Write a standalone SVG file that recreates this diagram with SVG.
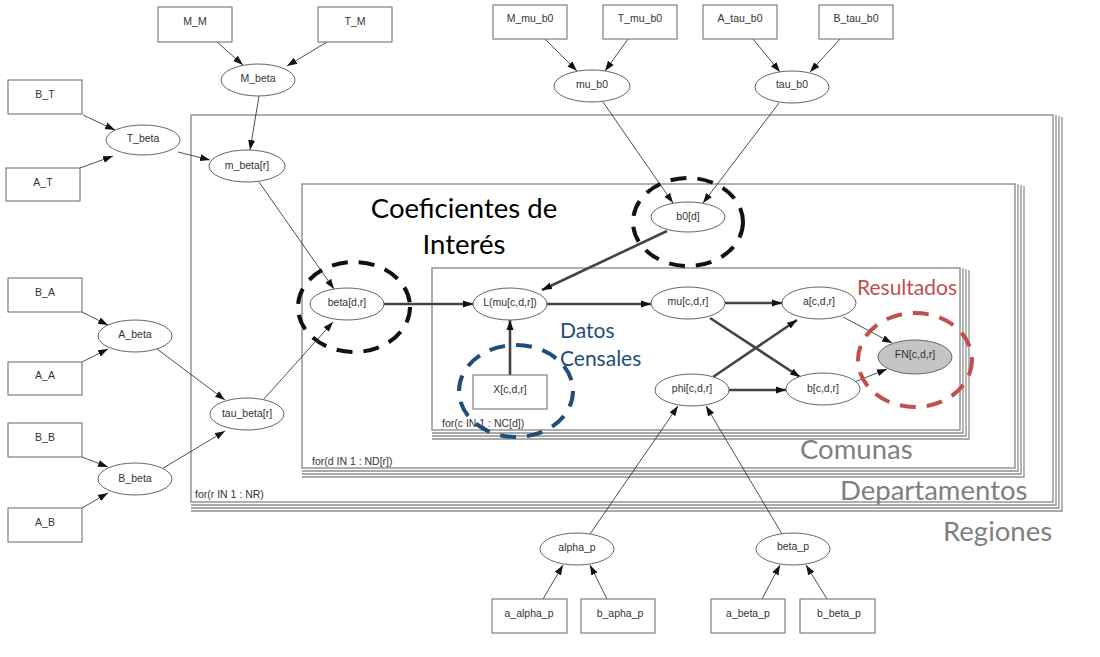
<svg xmlns="http://www.w3.org/2000/svg" width="1100" height="657" viewBox="0 0 1100 657">
<style>
.pl{fill:none;stroke:#858585;stroke-width:1.3}
.ps{fill:none;stroke:#8f8f8f;stroke-width:1.3}
.nd{fill:#fff;stroke:#666;stroke-width:1}
.gr{fill:#c4c4c4;stroke:#666;stroke-width:1}
.t{font-family:"Liberation Sans",Arial,sans-serif;font-size:10.5px;fill:#333;text-anchor:middle;dominant-baseline:central}
.pt{font-family:"Liberation Sans",Arial,sans-serif;font-size:10.5px;fill:#333}
.c{stroke:#222;stroke-width:0.8;fill:none;marker-end:url(#ah)}
.k{stroke:#444;stroke-width:2.6;fill:none;marker-end:url(#ah)}
.an{font-family:Lato,"Open Sans",sans-serif}
.dc{fill:none;stroke-width:4;stroke-dasharray:16 11}
</style>
<defs>
<marker id="ah" viewBox="0 0 10 10" refX="10" refY="5" markerWidth="10" markerHeight="10" markerUnits="userSpaceOnUse" orient="auto">
<path d="M0,1.5 L10,5 L0,8.5 z" fill="#111"/>
</marker>
</defs>
<rect width="1100" height="657" fill="#fff"/>
<g id="plates">
<g id="plate-regions">
<rect class="pl" x="191" y="115" width="862" height="387"/>
<polyline class="ps" points="1056,115 1056,505 191,505"/>
<polyline class="ps" points="1059,116 1059,508 191,508"/>
<polyline class="ps" points="1062,117 1062,511 191,511"/>
<text class="pt" x="195" y="498">for(r IN 1 : NR)</text>
</g>
<g id="plate-departamentos">
<rect class="pl" x="302" y="184" width="713" height="284"/>
<polyline class="ps" points="1018,184 1018,471 302,471"/>
<polyline class="ps" points="1021,185 1021,474 302,474"/>
<polyline class="ps" points="1024,186 1024,477 302,477"/>
<text class="pt" x="312" y="465">for(d IN 1 : ND[r])</text>
</g>
<g id="plate-comunas">
<rect class="pl" x="432" y="268" width="528" height="162"/>
<polyline class="ps" points="963,268 963,433 432,433"/>
<polyline class="ps" points="966,269 966,436 432,436"/>
<polyline class="ps" points="969,270 969,439 432,439"/>
<text class="pt" x="442" y="427">for(c IN 1 : NC[d])</text>
</g>
</g>
<g id="connectors">
<line class="c" x1="217" y1="42" x2="243" y2="65"/>
<line class="c" x1="327" y1="42" x2="287" y2="66"/>
<line class="c" x1="83" y1="115" x2="115" y2="130"/>
<line class="c" x1="80" y1="168" x2="113" y2="156"/>
<line class="c" x1="259" y1="96" x2="250" y2="150"/>
<line class="c" x1="178" y1="152" x2="210" y2="160"/>
<line class="c" x1="259" y1="182" x2="334" y2="289"/>
<line class="c" x1="82" y1="312" x2="108" y2="325"/>
<line class="c" x1="82" y1="362" x2="108" y2="349"/>
<line class="c" x1="157" y1="349" x2="225" y2="400"/>
<line class="c" x1="82" y1="457" x2="108" y2="467"/>
<line class="c" x1="82" y1="508" x2="108" y2="493"/>
<line class="c" x1="160" y1="470" x2="225" y2="431"/>
<line class="c" x1="263" y1="400" x2="333" y2="322"/>
<line class="c" x1="545" y1="39" x2="577" y2="71"/>
<line class="c" x1="628" y1="39" x2="605" y2="71"/>
<line class="c" x1="753" y1="39" x2="780" y2="72"/>
<line class="c" x1="840" y1="39" x2="810" y2="72"/>
<line class="c" x1="603" y1="102" x2="673" y2="203"/>
<line class="c" x1="779" y1="103" x2="703" y2="203"/>
<line class="c" x1="843" y1="317" x2="892" y2="343"/>
<line class="c" x1="852" y1="383" x2="887" y2="369"/>
<line class="c" x1="590" y1="534" x2="678" y2="406"/>
<line class="c" x1="782" y1="534" x2="706" y2="406"/>
<line class="c" x1="543" y1="599" x2="563" y2="565"/>
<line class="c" x1="607" y1="599" x2="590" y2="565"/>
<line class="c" x1="762" y1="599" x2="780" y2="565"/>
<line class="c" x1="827" y1="599" x2="806" y2="565"/>
<line class="k" x1="667" y1="231" x2="542" y2="290"/>
<line class="k" x1="384" y1="304" x2="473" y2="304"/>
<line class="k" x1="510" y1="375" x2="510" y2="320"/>
<line class="k" x1="547" y1="304" x2="651" y2="304"/>
<line class="k" x1="725" y1="303" x2="782" y2="303"/>
<line class="k" x1="729" y1="390" x2="786" y2="390"/>
<line class="k" x1="710" y1="318" x2="800" y2="377"/>
<line class="k" x1="713" y1="377" x2="797" y2="320"/>
</g>
<g id="n-M_M"><rect class="nd" x="158" y="7" width="74" height="35"/><text class="t" x="195" y="21">M_M</text></g>
<g id="n-T_M"><rect class="nd" x="318" y="7" width="74" height="35"/><text class="t" x="355" y="21">T_M</text></g>
<g id="n-B_T"><rect class="nd" x="8" y="80" width="74" height="34"/><text class="t" x="45" y="94">B_T</text></g>
<g id="n-A_T"><rect class="nd" x="6" y="168" width="74" height="33"/><text class="t" x="43" y="182">A_T</text></g>
<g id="n-B_A"><rect class="nd" x="8" y="278" width="74" height="34"/><text class="t" x="45" y="292">B_A</text></g>
<g id="n-A_A"><rect class="nd" x="8" y="362" width="74" height="33"/><text class="t" x="45" y="375">A_A</text></g>
<g id="n-B_B"><rect class="nd" x="8" y="423" width="74" height="34"/><text class="t" x="45" y="437">B_B</text></g>
<g id="n-A_B"><rect class="nd" x="8" y="508" width="74" height="34"/><text class="t" x="45" y="522">A_B</text></g>
<g id="n-M_mu_b0"><rect class="nd" x="493" y="5" width="74" height="34"/><text class="t" x="530" y="18">M_mu_b0</text></g>
<g id="n-T_mu_b0"><rect class="nd" x="603" y="5" width="74" height="34"/><text class="t" x="640" y="18">T_mu_b0</text></g>
<g id="n-A_tau_b0"><rect class="nd" x="703" y="5" width="74" height="34"/><text class="t" x="740" y="18">A_tau_b0</text></g>
<g id="n-B_tau_b0"><rect class="nd" x="819" y="5" width="74" height="34"/><text class="t" x="856" y="18">B_tau_b0</text></g>
<g id="n-X"><rect class="nd" x="473" y="375" width="74" height="34"/><text class="t" x="510" y="389">X[c,d,r]</text></g>
<g id="n-a_alpha_p"><rect class="nd" x="492" y="599" width="75" height="34"/><text class="t" x="529" y="613">a_alpha_p</text></g>
<g id="n-b_apha_p"><rect class="nd" x="581" y="599" width="74" height="34"/><text class="t" x="620" y="613">b_apha_p</text></g>
<g id="n-a_beta_p"><rect class="nd" x="711" y="599" width="74" height="34"/><text class="t" x="748" y="613">a_beta_p</text></g>
<g id="n-b_beta_p"><rect class="nd" x="800" y="599" width="75" height="34"/><text class="t" x="839" y="613">b_beta_p</text></g>
<g id="n-M_beta"><ellipse class="nd" cx="258" cy="80" rx="37" ry="16"/><text class="t" x="258" y="78">M_beta</text></g>
<g id="n-T_beta"><ellipse class="nd" cx="143" cy="140" rx="37" ry="15"/><text class="t" x="143" y="138">T_beta</text></g>
<g id="n-m_beta"><ellipse class="nd" cx="247" cy="166" rx="38" ry="16"/><text class="t" x="247" y="165">m_beta[r]</text></g>
<g id="n-mu_b0"><ellipse class="nd" cx="592" cy="86" rx="38" ry="16"/><text class="t" x="592" y="84">mu_b0</text></g>
<g id="n-tau_b0"><ellipse class="nd" cx="792" cy="87" rx="37" ry="16"/><text class="t" x="792" y="84">tau_b0</text></g>
<g id="n-b0"><ellipse class="nd" cx="688" cy="217" rx="37" ry="15"/><text class="t" x="688" y="216">b0[d]</text></g>
<g id="n-beta"><ellipse class="nd" cx="347" cy="304" rx="37" ry="16"/><text class="t" x="347" y="302">beta[d,r]</text></g>
<g id="n-L"><ellipse class="nd" cx="510" cy="304" rx="37" ry="16"/><text class="t" x="510" y="302">L(mu[c,d,r])</text></g>
<g id="n-mu"><ellipse class="nd" cx="688" cy="303" rx="37" ry="16"/><text class="t" x="688" y="301">mu[c,d,r]</text></g>
<g id="n-a"><ellipse class="nd" cx="819" cy="303" rx="37" ry="16"/><text class="t" x="819" y="301">a[c,d,r]</text></g>
<g id="n-phi"><ellipse class="nd" cx="692" cy="390" rx="37" ry="16"/><text class="t" x="692" y="388">phi[c,d,r]</text></g>
<g id="n-b"><ellipse class="nd" cx="823" cy="389" rx="37" ry="16"/><text class="t" x="823" y="388">b[c,d,r]</text></g>
<g id="n-FN"><ellipse class="gr" cx="915" cy="357" rx="37" ry="17"/><text class="t" x="915" y="354">FN[c,d,r]</text></g>
<g id="n-A_beta"><ellipse class="nd" cx="135" cy="336" rx="37" ry="16"/><text class="t" x="135" y="334">A_beta</text></g>
<g id="n-B_beta"><ellipse class="nd" cx="135" cy="479" rx="37" ry="16"/><text class="t" x="135" y="478">B_beta</text></g>
<g id="n-tau_beta"><ellipse class="nd" cx="247" cy="414" rx="37" ry="16"/><text class="t" x="247" y="413">tau_beta[r]</text></g>
<g id="n-alpha_p"><ellipse class="nd" cx="577" cy="549" rx="37" ry="16"/><text class="t" x="577" y="547">alpha_p</text></g>
<g id="n-beta_p"><ellipse class="nd" cx="793" cy="549" rx="37" ry="16"/><text class="t" x="793" y="546">beta_p</text></g>
<g id="annotations">
<ellipse class="dc" cx="688" cy="222" rx="55" ry="44" stroke="#111"/>
<ellipse class="dc" cx="354" cy="307" rx="56" ry="45" stroke="#111"/>
<ellipse class="dc" cx="516" cy="391" rx="57" ry="46" stroke="#1f4e79"/>
<ellipse class="dc" cx="915" cy="360" rx="57" ry="47" stroke="#c0504d"/>
<text class="an" x="464" y="218" font-size="27.5" fill="#000" text-anchor="middle">Coeficientes de</text>
<text class="an" x="464" y="254" font-size="27.5" fill="#000" text-anchor="middle">Interés</text>
<text class="an" x="560" y="338" font-size="21" fill="#1f4e79">Datos</text>
<text class="an" x="560" y="366" font-size="21" fill="#1f4e79">Censales</text>
<text class="an" x="857" y="295" font-size="21" fill="#c0504d">Resultados</text>
<text class="an" x="800" y="459" font-size="27.5" fill="#7f7f7f">Comunas</text>
<text class="an" x="840" y="500" font-size="27.5" fill="#7f7f7f">Departamentos</text>
<text class="an" x="943" y="541" font-size="27.5" fill="#7f7f7f">Regiones</text>
</g>
</svg>
